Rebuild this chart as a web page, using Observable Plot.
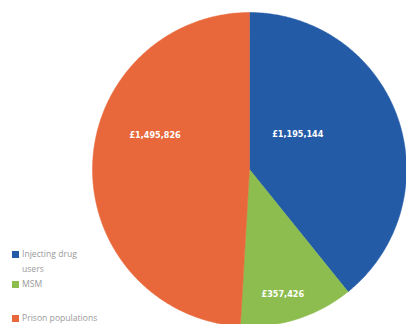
<!DOCTYPE html>
<html>
<head>
<meta charset="utf-8">
<script src="https://cdn.jsdelivr.net/npm/d3@7"></script>
<script src="https://cdn.jsdelivr.net/npm/@observablehq/plot@0.6"></script>
<style>
  html, body { margin: 0; padding: 0; background: #fff; }
  #wrap { position: relative; width: 406px; height: 324px; overflow: hidden; }
  #legend { position: absolute; left: 0; top: 0; font-family: "Open Sans", sans-serif; font-size: 8.6px; color: #9a9a9a; }
  .sw { position: absolute; width: 7px; height: 7px; }
  .tx { position: absolute; white-space: nowrap; line-height: 10px; }
</style>
</head>
<body>
<div id="wrap"><div id="legend"></div></div>
<script>
// Data
const categories = ["Injecting drug users", "MSM", "Prison populations"];
const values = [1195144, 357426, 1495826];
const valueLabels = ["£1,195,144", "£357,426", "£1,495,826"];
const colors = ["#235ba7", "#8dbd4f", "#e8683b"];

// Layout (label placement in polar units: angle clockwise from top in degrees, radius as fraction)
const labelAngle = [54, 165, 290];
const labelRadius = [0.38, 0.82, 0.64];

const W = 406, H = 324, cx = 249, cy = 169, R = 157;

const arcs = d3.pie().sort(null).value(d => d)(values);
const slicePts = [];
arcs.forEach((a, i) => {
  slicePts.push({cat: categories[i], x: 0, y: 0});
  const n = Math.max(2, Math.ceil((a.endAngle - a.startAngle) / (Math.PI / 360)));
  for (let k = 0; k <= n; k++) {
    const t = a.startAngle + (a.endAngle - a.startAngle) * k / n;
    slicePts.push({cat: categories[i], x: Math.sin(t), y: Math.cos(t)});
  }
  slicePts.push({cat: categories[i], x: 0, y: 0});
});

const labels = categories.map((c, i) => {
  const t = labelAngle[i] * Math.PI / 180;
  return {cat: c, text: valueLabels[i], x: labelRadius[i] * Math.sin(t), y: labelRadius[i] * Math.cos(t)};
});

const chart = Plot.plot({
  width: W, height: H,
  margin: 0,
  x: {domain: [-cx / R, (W - cx) / R], axis: null},
  y: {domain: [(cy - H) / R, cy / R], axis: null},
  color: {domain: categories, range: colors},
  marks: [
    Plot.line(slicePts, {x: "x", y: "y", z: "cat", fill: "cat", stroke: "cat", strokeWidth: 0.5, curve: "linear"}),
    Plot.text(labels, {x: "x", y: "y", text: "text", fill: "white", fontSize: 9, fontWeight: "bold", fontFamily: "DejaVu Sans Condensed, sans-serif"})
  ]
});
document.getElementById("wrap").prepend(chart);

// Legend
const legend = document.getElementById("legend");
const items = [
  {i: 0, sq: 251, lines: [["Injecting drug", 249], ["users", 264]]},
  {i: 1, sq: 281, lines: [["MSM", 279]]},
  {i: 2, sq: 315, lines: [["Prison populations", 313]]}
];
items.forEach(it => {
  const s = document.createElement("div");
  s.className = "sw";
  s.style.left = "12px";
  s.style.top = it.sq + "px";
  s.style.background = colors[it.i];
  legend.appendChild(s);
  it.lines.forEach(([t, y]) => {
    const d = document.createElement("div");
    d.className = "tx";
    d.style.left = "22px";
    d.style.top = y + "px";
    d.textContent = t;
    legend.appendChild(d);
  });
});
</script>
</body>
</html>
